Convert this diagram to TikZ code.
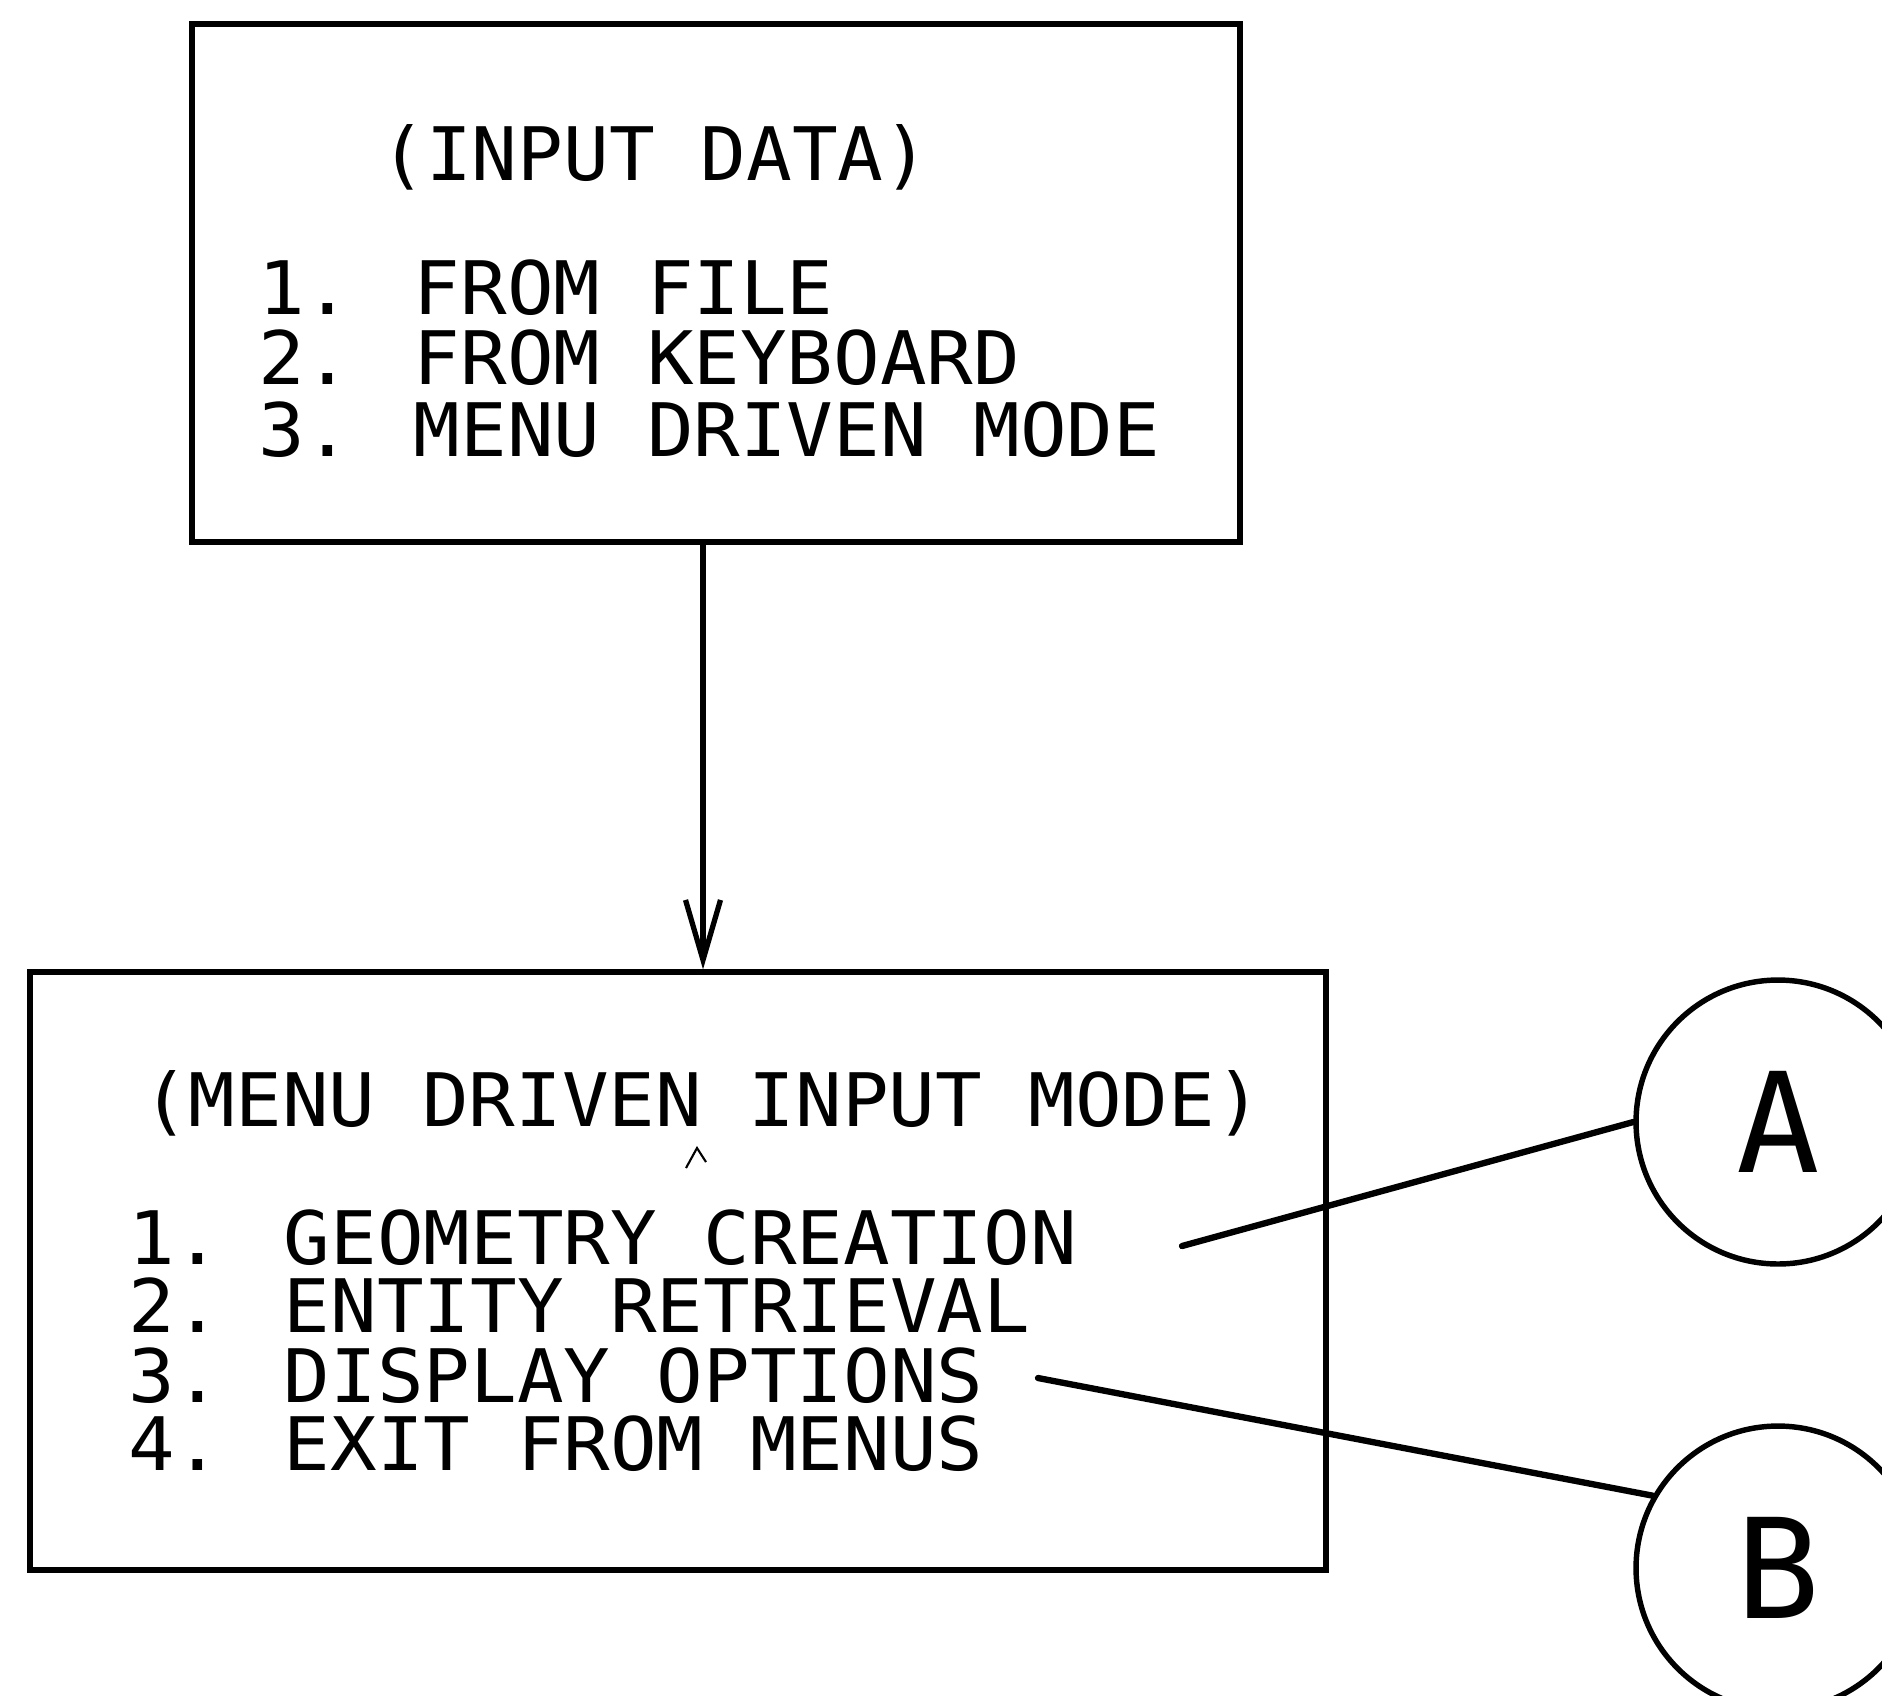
\documentclass[tikz,border=0pt]{standalone}
\usepackage{fontspec}
\newfontfamily\plotfont[FakeStretch=1.05]{DejaVu Sans Mono}
\newfontfamily\plottitle[FakeStretch=1.03]{DejaVu Sans Mono}
\newfontfamily\plottitleb[FakeStretch=1.05]{DejaVu Sans Mono}
\newfontfamily\circfont{DejaVu Sans Mono}
\usetikzlibrary{arrows.meta}
\begin{document}
\begin{tikzpicture}[x=0.02cm,y=-0.02cm,
  boxshape/.style={draw, rectangle, line width=3.1pt, inner sep=0pt},
  txt/.style={anchor=base west, inner sep=0pt, font=\fontsize{42}{50}\selectfont\plotfont},
  ttl/.style={anchor=base west, inner sep=0pt, font=\fontsize{42}{50}\selectfont\plottitle},
  ttlb/.style={anchor=base west, inner sep=0pt, font=\fontsize{42}{50}\selectfont\plottitleb},
  circ/.style={draw, circle, line width=3.1pt, minimum size=5.68cm, inner sep=0pt, font=\fontsize{79}{90}\selectfont\circfont},
  conn/.style={line width=3.6pt, line cap=round},
  arr/.style={line width=3pt, -{Straight Barb[length=1.2cm,width=0.7cm,line width=3pt]}}]
\useasboundingbox (0,0) rectangle (1882,1695);
\clip (0,0) rectangle (1882,1695);
\fill[white] (0,0) rectangle (1882,1695);

% boxes
\node[boxshape, minimum width=20.96cm, minimum height=10.36cm] (top) at (716,283) {};
\node[boxshape, minimum width=25.92cm, minimum height=11.96cm] (bot) at (678,1271) {};

% top box text
\node[ttl] (t0) at (380,180) {(INPUT DATA)};
\node[txt] (t1) at (258,314) {1. FROM FILE};
\node[txt] (t2) at (258,384) {2. FROM KEYBOARD};
\node[txt] (t3) at (258,456) {3. MENU DRIVEN MODE};

% bottom box text
\node[ttlb] (b0) at (142,1126) {(MENU DRIVEN INPUT MODE)};
\node[txt] (b1) at (128,1264) {1. GEOMETRY CREATION};
\node[txt] (b2) at (128,1332) {2. ENTITY RETRIEVAL};
\node[txt] (b3) at (128,1402) {3. DISPLAY OPTIONS};
\node[txt] (b4) at (128,1470) {4. EXIT FROM MENUS};

% stray caret mark
\draw[line width=1.2pt] (686,1168) -- (697,1148) -- (706,1162);

% circles
\node[circ] (A) at (1778,1122) {A};
\node[circ] (B) at (1778,1568) {B};

% arrow
\coordinate (ax) at (703,0);
\draw[arr] (top.south -| ax) -- (bot.north -| ax);

% connectors
\coordinate (ca) at (1182,1246);
\coordinate (cb) at (1038,1378);
\draw[conn] (ca) -- (A.west);
\draw[conn] (cb) -- (B.150);
\end{tikzpicture}
\end{document}
